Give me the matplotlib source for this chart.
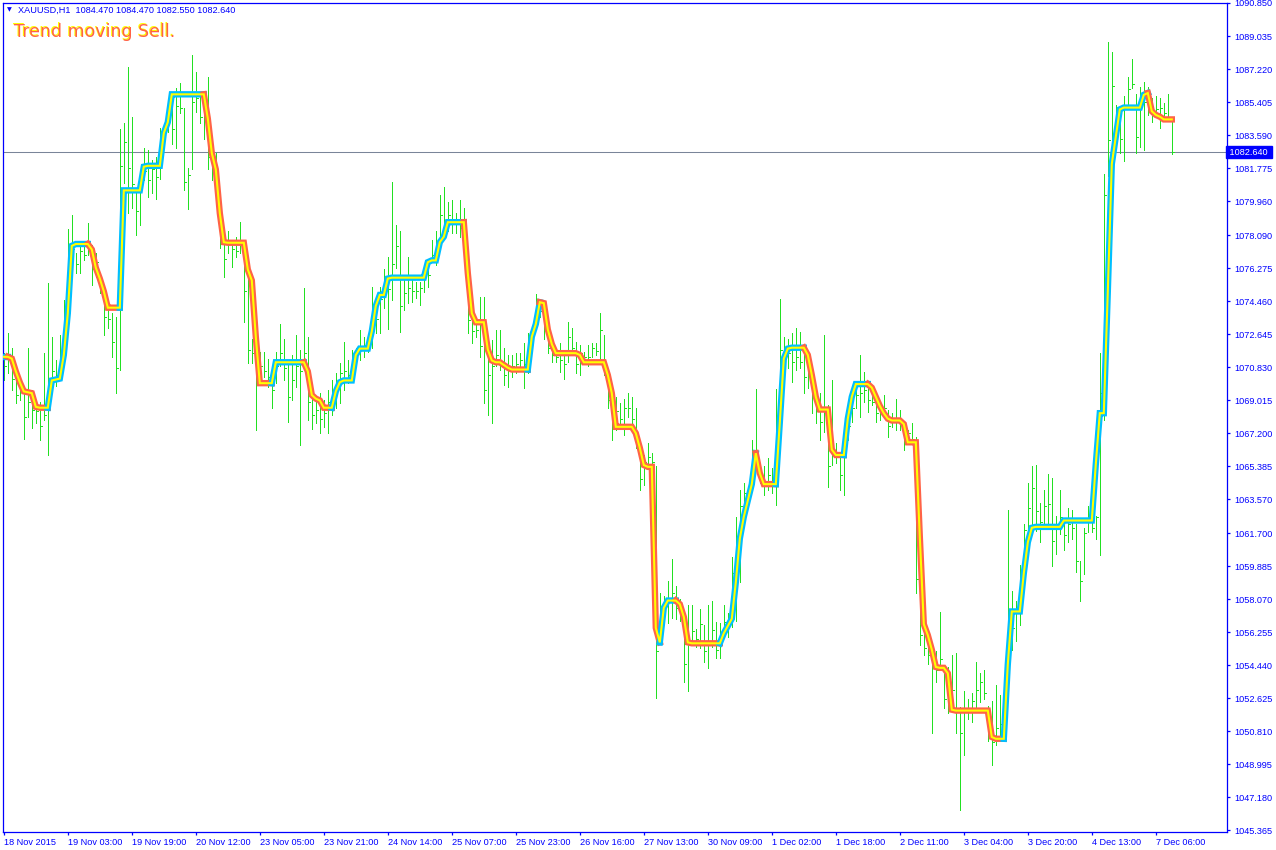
import matplotlib

matplotlib.use("Agg")
import matplotlib.pyplot as plt
import matplotlib.transforms as mtransforms

# hourly XAUUSD bars, 18 Nov 2015 .. 7 Dec 2015 (bar index 0..292)
line = [
    1071.4, 1071.4, 1071.3, 1070.6, 1070.0, 1069.5, 1069.45, 1069.4, 1068.65, 1068.6, 1068.6, 1068.6, 1070.1, 1070.15, 1070.2, 1071.5,
    1073.8, 1077.5, 1077.6, 1077.6, 1077.6, 1077.6, 1077.3, 1076.3, 1075.7, 1075.0, 1074.1, 1074.1, 1074.1, 1074.1, 1080.55, 1080.55,
    1080.55, 1080.55, 1080.55, 1081.85, 1081.9, 1081.9, 1081.9, 1081.9, 1083.7, 1084.3, 1085.83, 1085.83, 1085.83, 1085.83, 1085.83, 1085.83,
    1085.83, 1085.83, 1085.83, 1084.5, 1082.6, 1081.7, 1079.3, 1077.7, 1077.67, 1077.67, 1077.67, 1077.67, 1077.67, 1076.2, 1075.6, 1072.5,
    1069.95, 1069.95, 1069.95, 1069.95, 1071.1, 1071.1, 1071.1, 1071.1, 1071.1, 1071.1, 1071.1, 1071.1, 1070.6, 1069.3, 1069.1, 1069.0,
    1068.6, 1068.6, 1068.6, 1069.5, 1070.0, 1070.1, 1070.1, 1070.1, 1071.5, 1071.85, 1071.85, 1071.85, 1072.8, 1074.2, 1074.8, 1074.8,
    1075.7, 1075.75, 1075.75, 1075.75, 1075.75, 1075.75, 1075.75, 1075.75, 1075.75, 1075.75, 1076.6, 1076.7, 1076.7, 1077.7, 1078.0, 1078.8,
    1078.8, 1078.8, 1078.8, 1078.8, 1076.0, 1073.8, 1073.3, 1073.3, 1073.3, 1071.8, 1071.2, 1071.1, 1071.1, 1070.95, 1070.8, 1070.7,
    1070.7, 1070.7, 1070.7, 1070.7, 1072.5, 1073.2, 1074.4, 1074.35, 1072.9, 1072.1, 1071.6, 1071.6, 1071.6, 1071.6, 1071.6, 1071.6,
    1071.5, 1071.1, 1071.1, 1071.1, 1071.1, 1071.1, 1071.1, 1070.4, 1069.4, 1067.55, 1067.55, 1067.55, 1067.55, 1067.55, 1067.2, 1066.4,
    1065.45, 1065.35, 1065.35, 1056.5, 1055.7, 1057.6, 1058.0, 1058.0, 1058.0, 1057.8, 1057.1, 1055.7, 1055.65, 1055.65, 1055.65, 1055.65,
    1055.65, 1055.65, 1055.65, 1055.65, 1056.2, 1056.6, 1057.0, 1059.0, 1061.4, 1062.6, 1063.5, 1064.4, 1066.1, 1065.0, 1064.4, 1064.4,
    1064.4, 1064.4, 1067.8, 1071.3, 1071.85, 1071.9, 1071.9, 1071.9, 1071.9, 1071.5, 1070.4, 1069.2, 1068.5, 1068.5, 1068.5, 1066.3,
    1066.0, 1066.0, 1066.0, 1068.0, 1069.2, 1069.9, 1069.9, 1069.9, 1069.9, 1069.7, 1069.2, 1068.7, 1068.3, 1068.0, 1067.9, 1067.9,
    1067.9, 1067.7, 1066.7, 1066.7, 1066.7, 1061.5, 1056.7, 1056.1, 1055.3, 1054.35, 1054.3, 1054.3, 1054.0, 1052.0, 1051.95, 1051.95,
    1051.95, 1051.95, 1051.95, 1051.95, 1051.95, 1051.95, 1051.95, 1050.5, 1050.4, 1050.4, 1050.4, 1054.5, 1057.4, 1057.4, 1057.4, 1059.5,
    1061.2, 1062.0, 1062.05, 1062.05, 1062.05, 1062.05, 1062.05, 1062.05, 1062.05, 1062.4, 1062.4, 1062.4, 1062.4, 1062.4, 1062.4, 1062.4,
    1062.4, 1065.5, 1068.3, 1068.3, 1075.0, 1082.0, 1083.5, 1085.0, 1085.1, 1085.1, 1085.1, 1085.1, 1085.1, 1085.8, 1085.9, 1084.9,
    1084.7, 1084.6, 1084.45, 1084.45, 1084.45,
]

high = [
    1071.6, 1072.7, 1071.9, 1070.5, 1070.3, 1069.4, 1071.9, 1069.6, 1069.0, 1068.9, 1071.6, 1075.45, 1072.5, 1071.2, 1072.6, 1074.5,
    1078.4, 1079.2, 1077.1, 1077.65, 1077.65, 1078.75, 1077.55, 1077.1, 1076.0, 1074.9, 1074.1, 1073.8, 1073.6, 1083.9, 1084.25, 1087.35,
    1084.6, 1080.4, 1081.1, 1082.9, 1082.75, 1082.2, 1082.4, 1084.0, 1084.25, 1084.85, 1085.1, 1086.2, 1086.45, 1085.1, 1081.8, 1088.0,
    1087.05, 1085.9, 1085.5, 1086.8, 1083.3, 1082.6, 1080.0, 1078.3, 1078.3, 1077.65, 1078.0, 1078.8, 1077.8, 1076.0, 1072.4, 1072.15,
    1071.65, 1071.65, 1071.3, 1070.65, 1071.65, 1073.2, 1072.4, 1071.05, 1071.5, 1072.6, 1071.8, 1075.2, 1072.5, 1069.95, 1069.2, 1069.4,
    1069.0, 1069.55, 1070.1, 1070.5, 1071.05, 1072.2, 1071.2, 1071.75, 1071.9, 1072.85, 1072.5, 1072.3, 1075.25, 1074.7, 1075.25, 1076.2,
    1076.9, 1081.0, 1078.65, 1078.3, 1075.6, 1076.9, 1075.6, 1075.5, 1075.5, 1076.35, 1076.45, 1077.8, 1078.3, 1080.3, 1080.75, 1079.9,
    1080.0, 1079.3, 1080.0, 1079.6, 1076.2, 1073.95, 1073.15, 1074.7, 1074.7, 1072.15, 1072.3, 1072.85, 1072.85, 1071.9, 1071.5, 1071.5,
    1071.6, 1071.6, 1072.15, 1072.7, 1073.0, 1074.85, 1074.6, 1074.35, 1073.15, 1072.3, 1071.6, 1072.15, 1071.65, 1073.3, 1073.0, 1072.2,
    1072.05, 1071.65, 1072.05, 1072.15, 1072.15, 1073.8, 1072.6, 1070.55, 1069.55, 1069.2, 1068.85, 1069.1, 1069.4, 1069.2, 1068.6, 1066.65,
    1066.0, 1066.65, 1066.1, 1065.4, 1058.4, 1058.25, 1059.1, 1060.3, 1058.8, 1058.1, 1056.55, 1057.75, 1057.75, 1056.45, 1057.55, 1056.65,
    1057.75, 1058.0, 1056.8, 1056.75, 1057.75, 1057.3, 1060.4, 1062.6, 1064.05, 1064.45, 1064.25, 1066.8, 1069.65, 1065.5, 1065.4, 1065.85,
    1065.3, 1069.65, 1074.6, 1072.5, 1072.4, 1072.7, 1073.0, 1072.75, 1071.9, 1071.4, 1070.9, 1069.75, 1069.4, 1072.6, 1068.75, 1070.1,
    1066.65, 1066.1, 1067.35, 1068.45, 1069.55, 1069.95, 1071.5, 1070.55, 1069.95, 1069.75, 1069.2, 1068.85, 1069.3, 1068.45, 1068.3, 1069.1,
    1068.45, 1067.8, 1067.35, 1067.75, 1067.0, 1064.0, 1056.2, 1055.9, 1055.25, 1055.25, 1057.35, 1054.2, 1054.35, 1055.0, 1055.1, 1052.15,
    1053.05, 1052.6, 1052.9, 1054.6, 1054.0, 1054.2, 1052.2, 1052.5, 1053.35, 1052.8, 1053.05, 1063.0, 1058.55, 1058.0, 1059.95, 1062.2,
    1064.45, 1065.4, 1065.45, 1063.35, 1064.1, 1064.95, 1064.75, 1062.65, 1064.05, 1062.4, 1063.1, 1063.0, 1062.2, 1060.15, 1062.0, 1063.2,
    1062.3, 1062.65, 1071.6, 1081.45, 1088.7, 1088.15, 1085.25, 1085.1, 1085.75, 1086.8, 1087.75, 1085.85, 1086.25, 1086.5, 1086.25, 1085.6,
    1085.75, 1085.6, 1085.35, 1085.85, 1084.47,
]

low = [
    1070.1, 1070.5, 1069.6, 1068.85, 1069.0, 1066.9, 1068.1, 1067.5, 1067.75, 1066.8, 1067.9, 1066.0, 1069.8, 1069.8, 1070.3, 1071.75,
    1074.9, 1076.0, 1076.0, 1076.0, 1076.7, 1077.0, 1075.35, 1075.8, 1074.9, 1072.6, 1073.0, 1071.4, 1069.4, 1070.65, 1080.95, 1079.3,
    1079.6, 1078.1, 1078.65, 1081.1, 1080.2, 1080.4, 1080.1, 1081.2, 1083.3, 1083.75, 1083.1, 1082.9, 1084.8, 1080.55, 1079.5, 1081.7,
    1084.85, 1084.25, 1083.4, 1081.7, 1081.1, 1080.3, 1077.4, 1075.8, 1077.1, 1076.35, 1076.9, 1077.1, 1073.3, 1071.05, 1071.05, 1067.4,
    1069.95, 1070.3, 1069.75, 1068.6, 1069.95, 1070.9, 1070.1, 1067.8, 1069.0, 1069.75, 1066.55, 1070.8, 1067.9, 1067.45, 1067.75, 1067.2,
    1067.55, 1067.2, 1068.2, 1068.6, 1068.85, 1069.55, 1069.95, 1070.5, 1071.4, 1071.2, 1071.4, 1071.65, 1071.9, 1072.7, 1072.7, 1074.1,
    1072.95, 1074.5, 1076.3, 1072.75, 1073.95, 1074.35, 1074.4, 1074.65, 1074.25, 1074.95, 1075.25, 1076.6, 1076.45, 1077.8, 1078.0, 1078.3,
    1078.2, 1078.2, 1078.0, 1078.0, 1072.7, 1072.15, 1072.5, 1071.4, 1068.85, 1068.2, 1067.75, 1070.9, 1070.65, 1069.85, 1069.75, 1070.3,
    1070.5, 1070.65, 1069.7, 1070.5, 1071.9, 1073.3, 1073.6, 1072.4, 1071.6, 1071.1, 1071.1, 1070.55, 1070.2, 1071.1, 1071.5, 1070.5,
    1070.4, 1071.2, 1070.9, 1071.4, 1071.5, 1071.2, 1070.4, 1068.6, 1066.8, 1067.35, 1067.55, 1067.1, 1068.1, 1067.55, 1066.4, 1064.05,
    1064.35, 1065.35, 1065.35, 1052.65, 1055.8, 1057.05, 1056.75, 1057.05, 1057.0, 1056.9, 1053.5, 1053.05, 1055.6, 1055.45, 1055.4, 1054.6,
    1054.3, 1055.45, 1054.85, 1054.85, 1056.2, 1056.0, 1056.55, 1056.9, 1059.0, 1062.25, 1063.35, 1064.8, 1065.5, 1064.45, 1063.8, 1064.05,
    1063.9, 1063.25, 1066.25, 1070.3, 1070.8, 1070.0, 1070.65, 1070.8, 1069.4, 1069.7, 1068.3, 1067.75, 1066.8, 1067.25, 1064.25, 1065.45,
    1065.55, 1064.05, 1063.8, 1066.8, 1067.8, 1068.6, 1068.1, 1068.9, 1068.35, 1068.75, 1067.8, 1067.9, 1068.2, 1067.0, 1067.55, 1067.35,
    1067.35, 1066.25, 1067.0, 1066.7, 1058.4, 1055.55, 1055.0, 1054.5, 1050.7, 1053.5, 1054.5, 1052.1, 1051.8, 1052.15, 1050.7, 1046.5,
    1049.5, 1051.5, 1051.3, 1051.95, 1052.4, 1052.6, 1050.3, 1048.95, 1050.05, 1050.3, 1050.85, 1052.55, 1055.3, 1055.8, 1056.65, 1058.95,
    1061.4, 1062.05, 1061.85, 1061.2, 1062.05, 1062.2, 1059.9, 1060.55, 1061.65, 1060.8, 1061.2, 1061.4, 1059.55, 1058.0, 1059.45, 1061.75,
    1061.75, 1061.4, 1060.5, 1067.9, 1081.35, 1082.4, 1082.95, 1082.6, 1082.15, 1085.0, 1086.2, 1082.6, 1082.95, 1082.75, 1084.7, 1084.3,
    1084.7, 1084.0, 1084.55, 1084.65, 1082.55,
]

close = [
    1070.9, 1071.5, 1070.2, 1069.3, 1069.6, 1068.1, 1068.9, 1068.5, 1068.4, 1067.6, 1068.2, 1069.6, 1070.6, 1070.4, 1071.2, 1073.9,
    1076.4, 1077.3, 1076.5, 1077.2, 1077.0, 1077.3, 1076.2, 1076.6, 1075.3, 1073.6, 1073.5, 1072.2, 1070.8, 1081.9, 1083.2, 1081.8,
    1080.9, 1079.4, 1080.9, 1081.6, 1081.1, 1081.7, 1081.3, 1083.5, 1083.8, 1084.5, 1083.9, 1085.2, 1085.1, 1081.0, 1081.4, 1085.4,
    1085.6, 1084.6, 1085.0, 1082.4, 1082.3, 1081.2, 1078.0, 1076.8, 1077.8, 1077.3, 1077.2, 1077.8, 1075.0, 1071.8, 1071.6, 1070.4,
    1070.9, 1070.6, 1070.3, 1069.6, 1070.9, 1071.6, 1070.8, 1069.2, 1070.1, 1070.9, 1070.6, 1071.6, 1068.9, 1068.2, 1068.5, 1068.0,
    1068.3, 1068.9, 1069.6, 1069.9, 1070.5, 1070.6, 1070.4, 1071.4, 1071.6, 1072.0, 1071.9, 1072.1, 1074.3, 1073.5, 1074.6, 1075.6,
    1075.1, 1076.5, 1077.5, 1074.2, 1074.9, 1075.2, 1075.0, 1075.0, 1075.2, 1075.9, 1075.9, 1077.0, 1077.5, 1079.2, 1078.8, 1079.2,
    1078.7, 1078.9, 1078.5, 1078.2, 1073.4, 1072.8, 1072.9, 1072.0, 1069.6, 1070.4, 1070.9, 1071.5, 1071.0, 1070.4, 1070.9, 1070.9,
    1071.0, 1071.2, 1071.0, 1071.5, 1072.6, 1074.4, 1073.9, 1072.9, 1071.9, 1071.5, 1071.4, 1071.2, 1071.0, 1072.5, 1071.9, 1071.0,
    1071.6, 1071.4, 1071.4, 1071.9, 1071.7, 1072.9, 1070.9, 1069.0, 1067.6, 1068.4, 1068.0, 1068.6, 1068.6, 1068.0, 1066.9, 1064.7,
    1065.6, 1065.9, 1065.6, 1055.2, 1057.2, 1057.7, 1058.1, 1058.4, 1057.6, 1057.3, 1054.5, 1055.6, 1056.3, 1055.9, 1056.7, 1055.2,
    1055.6, 1056.4, 1055.3, 1056.2, 1056.8, 1056.6, 1059.5, 1060.7, 1063.2, 1063.9, 1063.8, 1066.3, 1065.9, 1064.9, 1064.3, 1064.9,
    1064.6, 1066.6, 1071.8, 1071.3, 1071.6, 1071.1, 1071.4, 1071.1, 1070.3, 1070.9, 1069.2, 1068.4, 1067.8, 1068.6, 1065.4, 1066.2,
    1066.1, 1064.9, 1066.9, 1067.6, 1068.6, 1069.3, 1069.4, 1069.6, 1069.0, 1068.9, 1068.3, 1068.3, 1068.6, 1067.6, 1067.9, 1068.0,
    1067.7, 1066.8, 1067.2, 1066.9, 1059.2, 1056.1, 1055.4, 1055.0, 1054.5, 1054.2, 1054.8, 1052.6, 1052.3, 1053.1, 1052.0, 1050.7,
    1051.9, 1052.1, 1052.5, 1053.1, 1053.5, 1052.9, 1051.1, 1050.2, 1051.0, 1051.2, 1052.3, 1056.4, 1056.5, 1057.3, 1059.2, 1061.9,
    1063.1, 1064.2, 1062.9, 1062.3, 1063.2, 1063.3, 1061.3, 1062.1, 1062.6, 1061.6, 1062.2, 1062.0, 1060.2, 1059.1, 1061.7, 1062.4,
    1062.0, 1062.6, 1069.4, 1080.3, 1083.3, 1086.3, 1084.2, 1083.4, 1085.0, 1086.1, 1086.4, 1083.5, 1085.6, 1085.4, 1085.2, 1084.9,
    1085.0, 1085.1, 1084.8, 1084.47, 1082.64,
]

time_labels = [
    "18 Nov 2015", "19 Nov 03:00", "19 Nov 19:00", "20 Nov 12:00", "23 Nov 05:00",
    "23 Nov 21:00", "24 Nov 14:00", "25 Nov 07:00", "25 Nov 23:00", "26 Nov 16:00",
    "27 Nov 13:00", "30 Nov 09:00", "1 Dec 02:00", "1 Dec 18:00", "2 Dec 11:00",
    "3 Dec 04:00", "3 Dec 20:00", "4 Dec 13:00", "7 Dec 06:00",
]
label_every = 16

price_ticks = [
    1090.850, 1089.035, 1087.220, 1085.405, 1083.590, 1081.775, 1079.960, 1078.090,
    1076.275, 1074.460, 1072.645, 1070.830, 1069.015, 1067.200, 1065.385, 1063.570,
    1061.700, 1059.885, 1058.070, 1056.255, 1054.440, 1052.625, 1050.810, 1048.995,
    1047.180, 1045.365,
]
last_price = 1082.640
header = "XAUUSD,H1  1084.470 1084.470 1082.550 1082.640"
signal_text = "Trend moving Sell."

FG = "#0000FF"
BAR = "#22E022"
UP = "#00BFFF"
DOWN = "#FF6347"
MID = "#FFFF00"

W, H = 1276, 850
fig = plt.figure(figsize=(W / 100, H / 100), dpi=100)
fig.patch.set_facecolor("white")
ax = fig.add_axes([3 / W, 1 - 832 / H, 1224 / W, 829 / H])
ax.set_facecolor("white")

idx = list(range(len(line)))

# price bars (1 px sticks with a short close tick)
ax.vlines(idx, low, high, color=BAR, linewidth=0.55, antialiased=False, zorder=2)
ax.hlines(close, idx, [i + 0.5 for i in idx], color=BAR, linewidth=0.55,
          antialiased=False, zorder=2)

ax.axhline(last_price, color="#7A8599", linewidth=0.75, zorder=1)

# trend line: blue while rising, red while falling, yellow core on top
trend = []
state = "up"
for i in idx:
    if i > 0 and line[i] > line[i - 1]:
        state = "up"
    elif i > 0 and line[i] < line[i - 1]:
        state = "down"
    trend.append(state)

start = 1
for i in range(2, len(line) + 1):
    if i == len(line) or trend[i] != trend[start]:
        xs = idx[start - 1:i]
        ys = line[start - 1:i]
        ax.plot(xs, ys, color=UP if trend[start] == "up" else DOWN,
                linewidth=4.6, solid_joinstyle="miter", solid_capstyle="projecting",
                zorder=3)
        start = i
ax.plot(idx, line, color=MID, linewidth=1.5, solid_joinstyle="miter", zorder=4)

ax.set_xlim(-0.2, -0.2 + 1224 / 4)
ax.set_ylim(1090.85 - 829 / 18.19, 1090.85)

for s in ax.spines.values():
    s.set_color(FG)
    s.set_linewidth(0.9)

tick_font = ["Liberation Sans", "DejaVu Sans"]
ax.yaxis.tick_right()
ax.set_yticks(price_ticks)
ax.set_yticklabels([f"{p:.3f}" for p in price_ticks], family=tick_font)
ax.set_xticks([k * label_every for k in range(len(time_labels))])
ax.set_xticklabels(time_labels, ha="left", family=tick_font)
ax.tick_params(axis="both", direction="out", color=FG, labelcolor=FG,
               labelsize=6.6, length=2.5, width=0.9)
ax.tick_params(axis="y", pad=3)
ax.tick_params(axis="x", pad=1.5)

# last price marker on the price scale
trans = mtransforms.blended_transform_factory(ax.transAxes, ax.transData)
ax.text(1.0, last_price, f" {last_price:.3f} ", transform=trans, ha="left", va="center",
        color="white", fontsize=6.6, family=tick_font, zorder=10, clip_on=False,
        bbox=dict(boxstyle="square,pad=0.15", fc=FG, ec=FG))

# header and signal text
fig.text(9 / W, 1 - 10 / H, "\u25bc", color=FG, fontsize=4.5, ha="center", va="center",
         family=["DejaVu Sans"])
fig.text(18 / W, 1 - 10 / H, header, color=FG, fontsize=6.6, ha="left", va="center",
         family=tick_font)
fig.text(12.6 / W, 1 - 36 / H, signal_text, color=MID, fontsize=12.5, ha="left",
         va="baseline", family=["DejaVu Sans"])
fig.text(14.2 / W, 1 - 37 / H, signal_text, color=DOWN, fontsize=12.5, ha="left",
         va="baseline", family=["DejaVu Sans"])

fig.savefig("out.png", dpi=100, facecolor="white")
